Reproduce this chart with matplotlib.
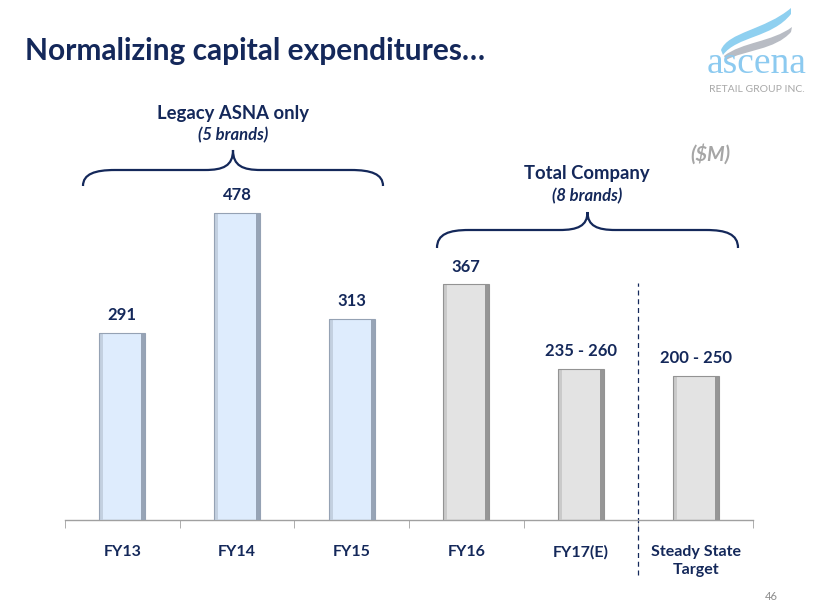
import numpy as np
import matplotlib
matplotlib.use("Agg")
import matplotlib.pyplot as plt
from matplotlib.path import Path
from matplotlib.patches import PathPatch
import matplotlib.transforms as mtransforms

categories = ["FY13", "FY14", "FY15", "FY16", "FY17(E)", "Steady State\nTarget"]
values = [291, 478, 313, 367, 235, 225]
value_labels = ["291", "478", "313", "367", "235 - 260", "200 - 250"]
legacy = [True, True, True, False, False, False]

navy = "#14285a"
grey_txt = "#a6a6a6"
plt.rcParams["font.family"] = ["Lato", "DejaVu Sans"]

fig = plt.figure(figsize=(8.2, 6.15), dpi=100)
W, H = 820, 615

# main bar axes: baseline at y=520px, spans x 65..753
ax = fig.add_axes([65 / W, (H - 520) / H, 688 / W, 420 / H])
x = np.arange(len(categories))
bw = 0.4
sw = 0.035
for xi, v, lab, leg in zip(x, values, value_labels, legacy):
    if leg:
        fc, lc, rc, ec = "#deecfd", "#c3d0e0", "#97a4b6", "#95a2b4"
    else:
        fc, lc, rc, ec = "#e3e3e3", "#cacaca", "#969696", "#939393"
    ax.bar(xi, v, width=bw, color=fc, edgecolor="none", zorder=2)
    # bevel sides
    ax.bar(xi - bw / 2 + sw / 2, v, width=sw, color=lc, edgecolor="none", zorder=3)
    ax.bar(xi + bw / 2 - sw / 2, v, width=sw, color=rc, edgecolor="none", zorder=3)
    ax.bar(xi, v, width=bw, color="none", edgecolor=ec, linewidth=0.8, zorder=4)
    ax.annotate(lab, (xi, v), xytext=(0, 7), textcoords="offset points",
                ha="center", va="bottom", fontsize=12, fontweight="bold", color=navy)

ax.set_xlim(-0.5, len(categories) - 0.5)
ax.set_ylim(0, 654)
for s in ["top", "right", "left"]:
    ax.spines[s].set_visible(False)
ax.spines["bottom"].set_color("#a0a0a0")
ax.spines["bottom"].set_linewidth(1.0)
ax.set_yticks([])
ax.set_xticks(x)
ax.set_xticklabels(categories, fontsize=11.5, fontweight="bold", color=navy, linespacing=1.35)
ax.tick_params(axis="x", which="major", length=0, pad=18)
ax.set_xticks(np.arange(-0.5, len(categories)), minor=True)
ax.tick_params(axis="x", which="minor", length=6, color="#a0a0a0", direction="out")

# dashed separator
trans = mtransforms.blended_transform_factory(ax.transData, ax.transAxes)
ax.plot([4.5, 4.5], [-0.131, 0.564], transform=trans, clip_on=False,
        color=navy, lw=0.9, ls=(0, (4, 3)))

# overlay axes in pixel coords for annotations
ov = fig.add_axes([0, 0, 1, 1], zorder=5)
ov.set_xlim(0, W)
ov.set_ylim(H, 0)
ov.axis("off")
ov.patch.set_alpha(0)


def brace(x0, x1, y_end, y_flat, y_tip):
    xm = (x0 + x1) / 2
    verts = [(x0, y_end), (x0, y_flat + 4), (x0 + 12, y_flat), (x0 + 32, y_flat),
             (xm - 28, y_flat),
             (xm - 10, y_flat), (xm, y_flat - 4), (xm, y_tip),
             (xm, y_flat - 4), (xm + 10, y_flat), (xm + 28, y_flat),
             (x1 - 32, y_flat),
             (x1 - 12, y_flat), (x1, y_flat + 4), (x1, y_end)]
    codes = [Path.MOVETO, Path.CURVE4, Path.CURVE4, Path.CURVE4,
             Path.LINETO,
             Path.CURVE4, Path.CURVE4, Path.CURVE4,
             Path.CURVE4, Path.CURVE4, Path.CURVE4,
             Path.LINETO,
             Path.CURVE4, Path.CURVE4, Path.CURVE4]
    ov.add_patch(PathPatch(Path(verts, codes), fill=False, ec=navy, lw=1.6))


brace(83, 383, 186, 170, 150)
brace(437, 738, 248, 230, 212)

ov.text(233, 113, "Legacy ASNA only", ha="center", va="center", fontsize=13.3,
        fontweight="bold", color=navy)
ov.text(233, 135, "(5 brands)", ha="center", va="center", fontsize=12,
        fontweight="bold", style="italic", color=navy)
ov.text(587, 173, "Total Company", ha="center", va="center", fontsize=13.3,
        fontweight="bold", color=navy)
ov.text(587, 196, "(8 brands)", ha="center", va="center", fontsize=12,
        fontweight="bold", style="italic", color=navy)
ov.text(710, 154, "($M)", ha="center", va="center", fontsize=14.5,
        fontweight="bold", style="italic", color=grey_txt)

ov.text(25, 60, "Normalizing capital expenditures\u2026", ha="left", va="baseline",
        fontsize=21.5, fontweight="bold", color=navy)
ov.text(778, 597, "46", ha="right", va="center", fontsize=8, color="#8c8c8c")

# logo swooshes
C = Path.CURVE4
blue = Path([(721, 50), (728, 32), (765, 30), (791, 8),
             (791, 14), (772, 38), (737, 36), (723, 55), (721, 50)],
            [Path.MOVETO, C, C, C, Path.LINETO, C, C, C, Path.CLOSEPOLY])
ov.add_patch(PathPatch(blue, fc="#8fd0f0", ec="none"))
grey = Path([(724, 56), (742, 42), (772, 42), (792, 27),
             (791, 32), (775, 50), (745, 50), (726, 60), (724, 56)],
            [Path.MOVETO, C, C, C, Path.LINETO, C, C, C, Path.CLOSEPOLY])
ov.add_patch(PathPatch(grey, fc="#b8bcc4", ec="none"))
ov.text(757, 73, "ascena", ha="center", va="baseline", fontsize=27,
        family="Liberation Serif", color="#8ccaf0")
ov.text(757, 85, "RETAIL GROUP INC.", ha="center", va="top", fontsize=7.5,
        color="#a8a8a8")

fig.savefig("out.png", dpi=100)
